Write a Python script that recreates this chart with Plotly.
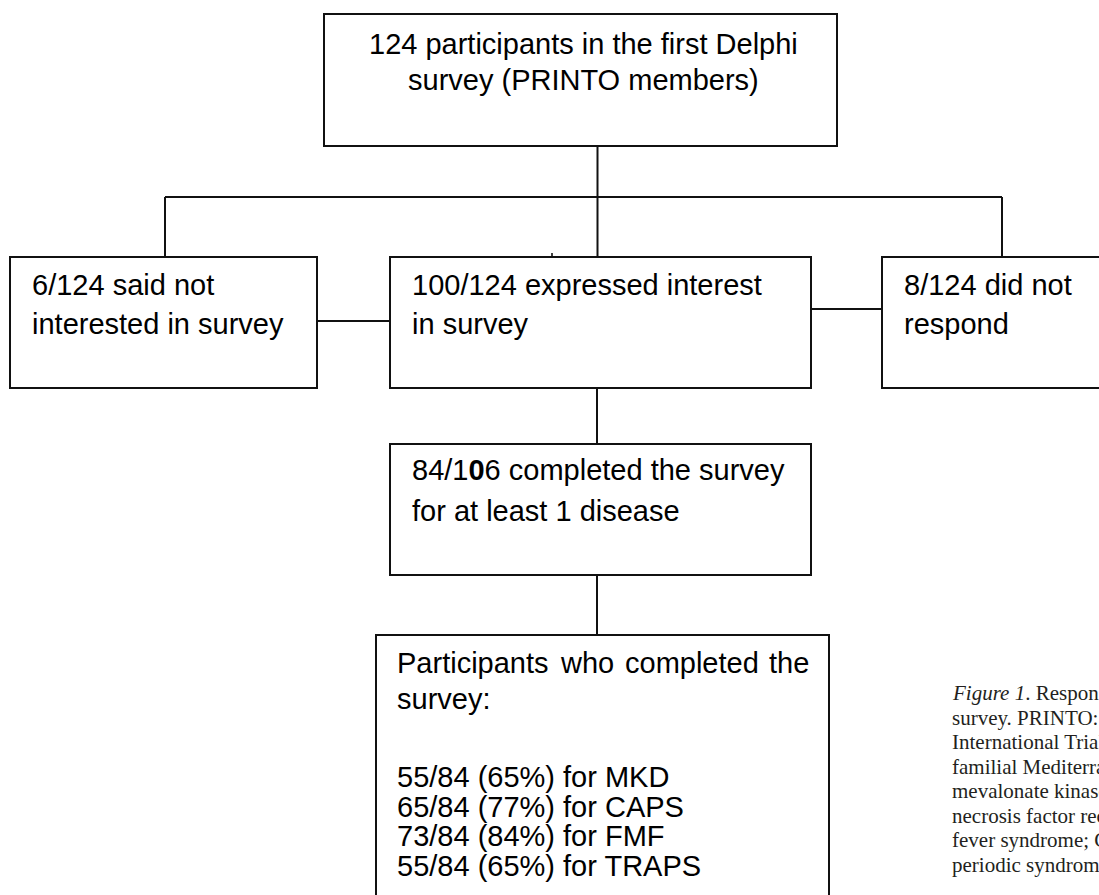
import plotly.graph_objects as go

# ---------------- content ----------------
top_lines = ["124 participants in the first Delphi", "survey (PRINTO members)"]
left_lines = ["6/124 said not", "interested in survey"]
mid_lines = ["100/124 expressed interest", "in survey"]
right_lines = ["8/124 did not", "respond"]
completed_lines = ["84/1<b>0</b>6 completed the survey", "for at least 1 disease"]
result_header_words = ["Participants", "who", "completed", "the"]
result_header_2 = "survey:"
diseases = ["MKD", "CAPS", "FMF", "TRAPS"]
completed_n = [55, 65, 73, 55]
completed_total = 84
completed_pct = [65, 77, 84, 65]
caption_lines = [
    "<i>Figure 1</i>. Response to the first Delphi",
    "survey. PRINTO: Paediatric Rheumatology",
    "International Trials Organisation; FMF:",
    "familial Mediterranean fever; MKD:",
    "mevalonate kinase deficiency; TRAPS: tumor",
    "necrosis factor receptor-associated periodic",
    "fever syndrome; CAPS: cryopyrin-associated",
    "periodic syndromes.",
]

# ---------------- layout geometry ----------------
W, H = 1099, 895
LINE = dict(color="#111111", width=2)
SANS = "Liberation Sans, Arial, sans-serif"
SERIF = "Liberation Serif, Times New Roman, serif"
FS = 29

box_top = (324, 14, 837, 146)
box_left = (10, 257, 317, 388)
box_mid = (390, 257, 811, 388)
box_right = (882, 257, 1130, 388)
box_done = (390, 444, 811, 575)
box_res = (376, 635, 829, 930)

connectors = [
    (597.5, 146, 597.5, 257),
    (165, 197, 1002, 197),
    (165, 197, 165, 257),
    (1002, 197, 1002, 257),
    (317, 321, 390, 321),
    (811, 309, 882, 309),
    (597, 388, 597, 444),
    (597, 575, 597, 635),
    (552, 253, 552, 257),
]

shapes = []
for (x0, y0, x1, y1) in [box_top, box_left, box_mid, box_right, box_done, box_res]:
    shapes.append(dict(type="rect", xref="x", yref="y", x0=x0, y0=y0, x1=x1, y1=y1,
                       line=LINE, fillcolor="rgba(0,0,0,0)", layer="above"))
for (x0, y0, x1, y1) in connectors:
    shapes.append(dict(type="line", xref="x", yref="y", x0=x0, y0=y0, x1=x1, y1=y1,
                       line=dict(color="#111111", width=1.6 if y0 == 253 else 2)))

annotations = []


def add_text(text, x, y, anchor="left", size=FS, family=SANS, color="#000000"):
    annotations.append(dict(text=text, x=x, y=y, xref="x", yref="y",
                            xanchor=anchor, yanchor="middle", showarrow=False,
                            font=dict(family=family, size=size, color=color),
                            borderpad=0))


# top box (centred)
for line, yy in zip(top_lines, [44, 80]):
    add_text(line, 583, yy, anchor="center")
# second row
for line, yy in zip(left_lines, [285, 324]):
    add_text(line, 31, yy)
for line, yy in zip(mid_lines, [285, 324]):
    add_text(line, 411, yy)
for line, yy in zip(right_lines, [285, 324]):
    add_text(line, 903, yy)
# completed box
for line, yy in zip(completed_lines, [470, 511]):
    add_text(line, 411, yy)

# result box: first line is justified between the text margins
left_m, right_m = 396, 810
word_em = [5.224, 1.834, 4.613, 1.39]          # Arial advance widths (em)
word_w = [w * FS for w in word_em]
gap = (right_m - left_m - sum(word_w)) / (len(word_w) - 1)
xpos = left_m
for i, (word, ww) in enumerate(zip(result_header_words, word_w)):
    if i == len(word_w) - 1:
        add_text(word, right_m, 663, anchor="right")
    else:
        add_text(word, xpos, 663)
    xpos += ww + gap
add_text(result_header_2, left_m, 699)
for i, (n, p, d) in enumerate(zip(completed_n, completed_pct, diseases)):
    add_text(f"{n}/{completed_total} ({p}%) for {d}", left_m, 777 + i * 29.5)

# caption (clipped by the right page edge)
for i, line in enumerate(caption_lines):
    add_text(line, 951, 693 + i * 24.5, size=21, family=SERIF, color="#231f20")

fig = go.Figure()
fig.update_layout(
    width=W, height=H,
    margin=dict(l=0, r=0, t=0, b=0),
    paper_bgcolor="white", plot_bgcolor="white",
    xaxis=dict(range=[0, W], visible=False, fixedrange=True),
    yaxis=dict(range=[H, 0], visible=False, fixedrange=True),
    shapes=shapes, annotations=annotations, showlegend=False,
)
fig.write_html(
    "out.html",
    config={"displayModeBar": False, "staticPlot": True},
    post_script="document.body.style.margin='0';document.body.style.overflow='hidden';",
)
